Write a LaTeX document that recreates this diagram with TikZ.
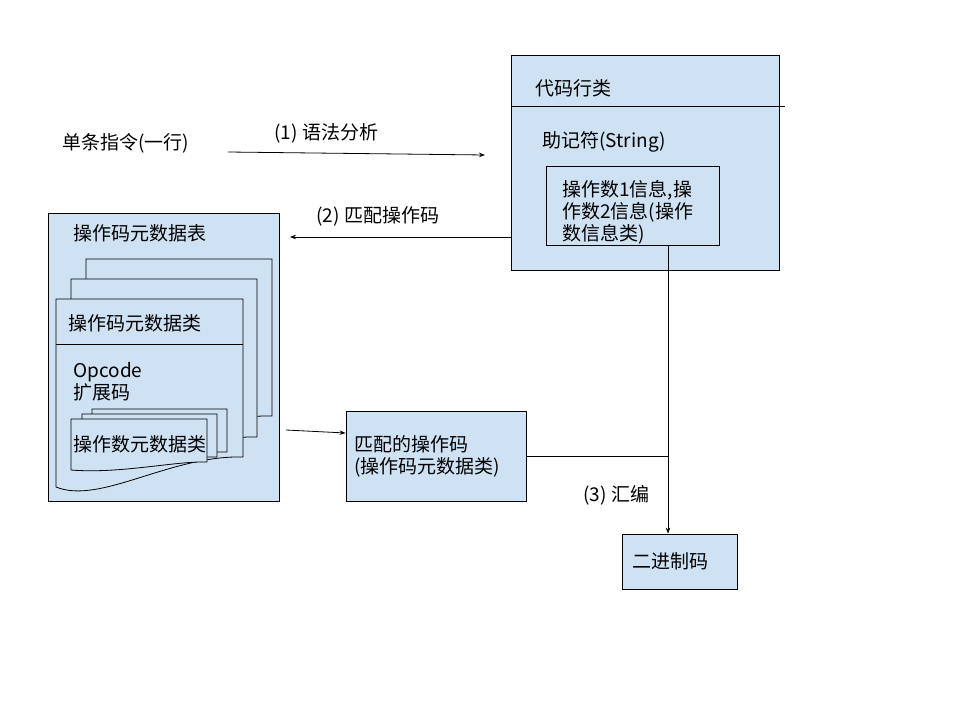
\documentclass[tikz,border=0pt]{standalone}
\usepackage{fontspec}
\setmainfont{Noto Sans CJK SC}
\usetikzlibrary{arrows.meta}
\definecolor{boxblue}{HTML}{CFE2F3}
\tikzset{
  box/.style={draw, fill=boxblue, line width=0.8pt, inner sep=0pt},
  page/.style={draw, fill=boxblue, line width=0.8pt},
  txt/.style={anchor=west, inner sep=0pt, align=left},
}
\begin{document}
\begin{tikzpicture}[x=1pt, y=-1pt, line width=0.8pt,
  >={Stealth[length=6pt,width=4.5pt]},
  font=\fontsize{19}{22}\selectfont]
\useasboundingbox (0,0) rectangle (960,720);
%
\node(instr) [txt] at (62,143) {单条指令(一行)};
\node(lbl1) [txt] at (274,133) {(1) 语法分析};
\coordinate(p1a) at (228,152);
\coordinate(p1b) at (485,155);
\draw[->](p1a) -- (p1b);
%
\node(cls) [box, minimum width=268pt, minimum height=215pt] at (645,162.5) {};
\draw (511,106) -- (785,106);
\node(clsname) [txt] at (535,88) {代码行类};
\node(mnem) [txt] at (542,142) {助记符(String)};
\node(opnd) [box, minimum width=173pt, minimum height=79pt] at (632.5,205.5) {};
\node(opndtxt) [txt] at (562,212) {操作数1信息,操\\作数2信息(操作\\数信息类)};
%
\node(lbl2) [txt] at (316,216) {(2) 匹配操作码};
\coordinate(p2) at (290,237);
\draw[->](cls.west |- p2) -- (p2);
%
\node(tbl) [box, minimum width=231pt, minimum height=288pt] at (163.5,357) {};
\node(tblname) [txt] at (73,233) {操作码元数据表};
\draw[page] (86,259) -- (272,259) -- (272,416) .. controls (200,414) and (130,464) .. (86,446) -- cycle;
\draw[page] (71,279) -- (257,279) -- (257,437) .. controls (185,435) and (115,485) .. (71,467) -- cycle;
\draw[page] (56,299) -- (243,299) -- (243,457) .. controls (170,455) and (100,505) .. (56,487) -- cycle;
\draw (56,344) -- (243,344);
\node(opmeta) [txt] at (68,323) {操作码元数据类};
\node(opcode) [txt] at (73,382) {Opcode\\扩展码};
%
\draw[page] (92,409) -- (227,409) -- (227,452) .. controls (195,451) and (140,464) .. (92,460) -- cycle;
\draw[page] (82,414) -- (217,414) -- (217,457) .. controls (185,456) and (130,469) .. (82,465) -- cycle;
\draw[page] (71,419) -- (207,419) -- (207,462) .. controls (175,461) and (120,474) .. (71,470) -- cycle;
\node(ndmeta) [txt] at (73,444) {操作数元数据类};
%
\node(match) [box, minimum width=180pt, minimum height=90pt, text width=163pt, align=left] at (436,456) {匹配的操作码\\(操作码元数据类)};
\coordinate(p4) at (286,430);
\draw[->](p4) -- ([yshift=23pt]match.west);
%
\node(bin) [box, minimum width=115pt, minimum height=55pt, text width=95pt] at (679.5,561.5) {二进制码};
\coordinate(p3) at (668,245);
\draw[->](p3) -- (bin.north -| p3);
\draw (match.east) -- (match.east -| p3);
\node(lbl3) [txt] at (583,495) {(3) 汇编};
\end{tikzpicture}
\end{document}
